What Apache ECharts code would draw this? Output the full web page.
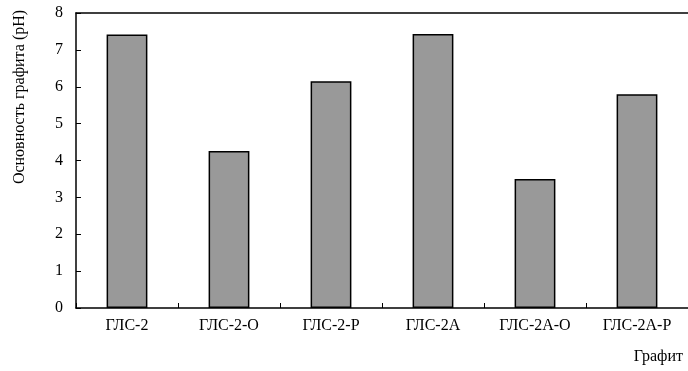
<!DOCTYPE html>
<html>
<head>
<meta charset="utf-8">
<script src="https://cdn.jsdelivr.net/npm/echarts@6/dist/echarts.min.js"></script>
<style>html,body{margin:0;padding:0;background:#fff;}#c{width:688px;height:371px;}</style>
</head>
<body>
<div id="c"></div>
<script>
const categories = ['ГЛС-2', 'ГЛС-2-О', 'ГЛС-2-Р', 'ГЛС-2А', 'ГЛС-2А-О', 'ГЛС-2А-Р'];
const phValues = [7.42, 4.26, 6.15, 7.43, 3.50, 5.80];
const yTicks = { min: 0, max: 8, interval: 1 };
const yTitle = 'Основность графита (pH)';
const xTitle = 'Графит';

const font = '"Liberation Serif", "Times New Roman", serif';
const chart = echarts.init(document.getElementById('c'), null, { renderer: 'canvas' });
chart.setOption({
  animation: false,
  backgroundColor: '#fff',
  grid: { left: 76, right: 0, top: 13, bottom: 63, containLabel: false },
  xAxis: [{
    type: 'category',
    data: categories,
    axisLine: { show: true, lineStyle: { color: '#000', width: 1.5 } },
    axisTick: { show: true, inside: true, length: 5, lineStyle: { color: '#000', width: 1 } },
    axisLabel: { color: '#000', fontFamily: font, fontSize: 16, margin: 10 },
    splitLine: { show: false }
  }, {
    type: 'category',
    position: 'top',
    data: categories,
    axisLine: { show: true, lineStyle: { color: '#000', width: 1.5 } },
    axisTick: { show: false },
    axisLabel: { show: false }
  }],
  yAxis: [{
    type: 'value',
    min: yTicks.min, max: yTicks.max, interval: yTicks.interval,
    axisLine: { show: true, lineStyle: { color: '#000', width: 1.5 } },
    axisTick: { show: true, inside: true, length: 5, lineStyle: { color: '#000', width: 1 } },
    axisLabel: { color: '#000', fontFamily: font, fontSize: 16, margin: 13 },
    splitLine: { show: false }
  }],
  graphic: [{
    type: 'text',
    x: 20, y: 97,
    rotation: Math.PI / 2,
    style: { text: yTitle, fill: '#000', font: '16px ' + font, textAlign: 'center', textVerticalAlign: 'middle' }
  }, {
    type: 'text',
    x: 683, y: 357,
    style: { text: xTitle, fill: '#000', font: '16px ' + font, textAlign: 'right', textVerticalAlign: 'middle' }
  }],
  series: [{
    type: 'bar',
    data: phValues,
    barWidth: '40%',
    itemStyle: { color: '#999999', borderColor: '#000', borderWidth: 1.5 }
  }]
});
</script>
</body>
</html>
